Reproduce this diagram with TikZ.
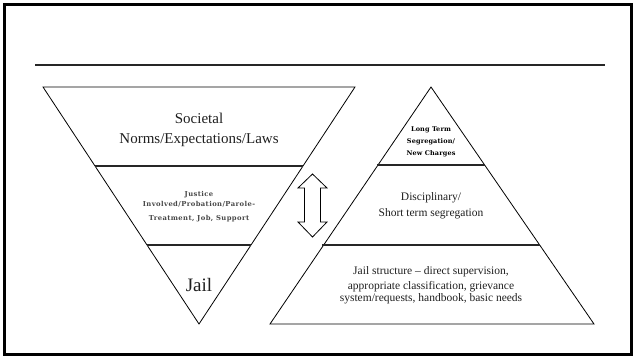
\documentclass[tikz,border=0pt]{standalone}
\usepackage{fontspec}
\setmainfont{Liberation Serif}
\newfontfamily\smallslab[LetterSpace=6]{DejaVu Serif}
\newfontfamily\boldslab[LetterSpace=2]{DejaVu Serif}
\tikzset{
  tri/.style={draw, line width=0.8pt, line join=miter},
  divider/.style={draw=black!85, line width=1.3pt},
  lbl/.style={align=center, inner sep=0pt, text=black!88},
}
\begin{document}
\begin{tikzpicture}[x=1pt, y=-1pt]
  \useasboundingbox (0,0) rectangle (634,358);
  % slide frame and title rule
  \draw[line width=3pt] (4.5,4.5) rectangle (631.5,354.5);
  \draw[line width=1.3pt, draw=black!85] (35,65) -- (605,65);

  % inverted triangle on left
  \draw[tri] (43,87) -- (355,87) -- (199,324) -- cycle;
  \draw[divider] (95,166) -- (303,166);
  \draw[divider] (147,245) -- (251,245);

  \node[lbl, font=\fontsize{15}{20}\selectfont] (societal) at (199,130)
    {Societal\\Norms/Expectations/Laws};
  \node[lbl, text=black!72, font=\smallslab\bfseries\fontsize{6.8}{10}\selectfont] (justice) at (199,207)
    {Justice\\Involved/Probation/Parole-\\[4pt]Treatment, Job, Support};
  \node[lbl, font=\fontsize{19}{22}\selectfont] (jail) at (199,285) {Jail};

  % double arrow between the two
  \draw[line width=0.8pt, line join=miter] (312.5,174) -- (327,188) -- (320.5,188) -- (320.5,222)
    -- (327,222) -- (312.5,237) -- (298,222) -- (304.5,222) -- (304.5,188) -- (298,188) -- cycle;

  % pyramid on right
  \draw[tri] (431,87) -- (594,324) -- (270,324) -- cycle;
  \draw[divider] (377,165) -- (485,165);
  \draw[divider] (322,245) -- (540,245);

  \node[lbl, text=black, font=\boldslab\bfseries\fontsize{6.5}{12}\selectfont] (longterm) at (431,142)
    {Long Term\\Segregation/\\New Charges};
  \node[lbl, font=\fontsize{11.5}{16}\selectfont] (disciplinary) at (431,206)
    {Disciplinary/\\Short term segregation};
  \node[lbl, font=\fontsize{11.5}{11.5}\selectfont] (structure) at (431,285)
    {Jail structure -- direct supervision,\\[3.5pt]appropriate classification, grievance\\system/requests, handbook, basic needs};
\end{tikzpicture}
\end{document}
